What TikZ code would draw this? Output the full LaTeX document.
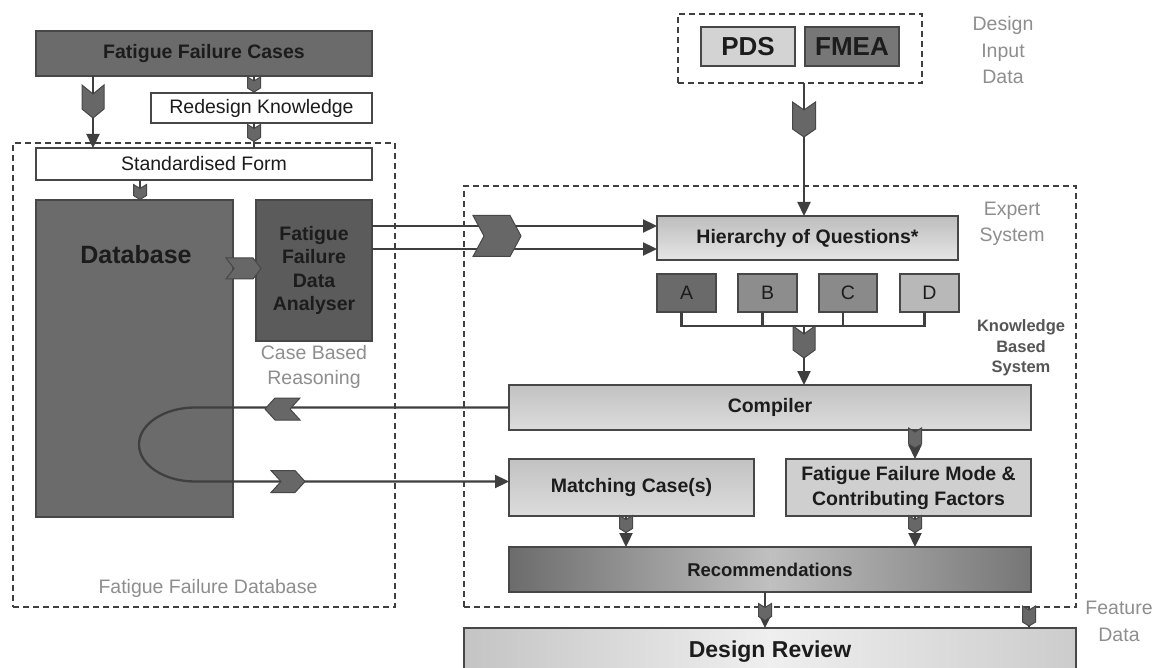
\documentclass[tikz,border=0pt]{standalone}
\usepackage{fontspec}
\setmainfont{Liberation Sans}
\usetikzlibrary{arrows.meta}

\definecolor{ink}{HTML}{1C1C1C}
\definecolor{edge}{HTML}{474747}
\definecolor{wire}{HTML}{3F3F3F}
\definecolor{darkfill}{HTML}{6B6B6B}
\definecolor{anfill}{HTML}{5B5B5B}
\definecolor{chevfill}{HTML}{676767}
\definecolor{softlabel}{HTML}{8E8E8E}
\definecolor{kbslabel}{HTML}{555555}
\definecolor{pdsfill}{HTML}{D3D3D3}
\definecolor{fmeafill}{HTML}{777777}
\definecolor{afill}{HTML}{6A6A6A}
\definecolor{bfill}{HTML}{8D8D8D}
\definecolor{cfill}{HTML}{8A8A8A}
\definecolor{dfill}{HTML}{B8B8B8}
\definecolor{gtop}{HTML}{BDBDBD}
\definecolor{gbot}{HTML}{E6E6E6}
\definecolor{ctop}{HTML}{C2C2C2}
\definecolor{cbot}{HTML}{DCDCDC}
\definecolor{ffmfill}{HTML}{CFCFCF}
\definecolor{recedge}{HTML}{6C6C6C}
\definecolor{recmid}{HTML}{C0C0C0}
\definecolor{recright}{HTML}{767676}
\definecolor{drleft}{HTML}{C4C4C4}
\definecolor{drmid}{HTML}{EFEFEF}
\definecolor{drright}{HTML}{CCCCCC}

\tikzset{
  % block arrow marker drawn pointing along +x
  pics/chev/.style n args={3}{code={
    \filldraw[chevstyle] (-#1/2,-#2/2) -- (#1/2-#3,-#2/2) -- (#1/2,0)
      -- (#1/2-#3,#2/2) -- (-#1/2,#2/2) -- (-#1/2+#3,0) -- cycle;
  }},
  chevstyle/.style={fill=chevfill, draw=edge, line width=1pt, line join=miter},
}

\begin{document}
\begin{tikzpicture}[x=1pt,y=-1pt,
  every node/.style={inner sep=0pt, outer sep=0pt},
  box/.style={draw=edge, line width=1.3pt, rectangle, anchor=north west, align=center, text=ink},
  group/.style={draw=wire, line width=1.4pt, dash pattern=on 6pt off 4pt, rectangle, anchor=north west},
  txt/.style={font=\fontsize{19.5}{23.5}\selectfont},
  btxt/.style={font=\bfseries\fontsize{19.5}{23.5}\selectfont},
  note/.style={align=center, text=softlabel, font=\fontsize{19.5}{26.5}\selectfont},
  conn/.style={draw=wire, line width=2.3pt},
  arr/.style={-{Triangle[length=14pt,width=13pt]}},
]
\clip (0,0) rectangle (1156,668);
\fill[white] (0,0) rectangle (1156,668);

% ---------- guide coordinates for vertical and horizontal runs ----------
\coordinate (k93) at (93,0);
\coordinate (k140) at (140,0);
\coordinate (k254) at (254,0);
\coordinate (k195) at (195,0);
\coordinate (k626) at (626,0);
\coordinate (k765) at (765,0);
\coordinate (k804) at (804,0);
\coordinate (k915) at (915,0);
\coordinate (k1029) at (1029,0);
\coordinate (k226) at (0,226);
\coordinate (k249) at (0,249);

% ---------- group frames ----------
\node[group, minimum width=382pt, minimum height=464pt] (dbgroup) at (13,143) {};
\node[group, minimum width=612pt, minimum height=421pt] (expert) at (464,186) {};
\node[group, minimum width=244pt, minimum height=69pt] (dinput) at (678,14) {};

% ---------- fatigue failure database side ----------
\node[box, btxt, fill=darkfill, minimum width=336pt, minimum height=45pt] (ffc) at (36,31) {Fatigue Failure Cases};
\node[box, txt, fill=white, minimum width=221pt, minimum height=30pt] (redesign) at (151,93) {Redesign Knowledge};
\node[box, txt, fill=white, minimum width=336pt, minimum height=32pt] (sform) at (36,148) {Standardised Form};
\node[box, fill=darkfill, minimum width=197pt, minimum height=317pt] (db) at (36,200) {};
\node[text=ink, font=\bfseries\fontsize{25}{30}\selectfont] (dbtitle) at (136,255) {Database};
\node[box, btxt, fill=anfill, minimum width=116pt, minimum height=141pt] (an) at (256,200) {Fatigue\\Failure\\Data\\Analyser};
\node[note, font=\fontsize{19.5}{24.5}\selectfont] (cbr) at (314,367) {Case Based\\Reasoning};
\node[note] (fdb) at (208,588) {Fatigue Failure Database};

% ---------- design input ----------
\node[box, text=ink, font=\bfseries\fontsize{26}{30}\selectfont, fill=pdsfill, minimum width=94pt, minimum height=39pt] (pds) at (701,27) {PDS};
\node[box, text=ink, font=\bfseries\fontsize{26}{30}\selectfont, fill=fmeafill, minimum width=94pt, minimum height=39pt] (fmea) at (805,27) {FMEA};
\node[note] (dilabel) at (1003,50.5) {Design\\Input\\Data};

% ---------- expert system ----------
\node[note] (eslabel) at (1012,224) {Expert\\System};
\node[box, btxt, top color=gtop, bottom color=gbot, minimum width=301pt, minimum height=44pt] (hier) at (657,216) {Hierarchy of Questions*};
\node[box, txt, fill=afill, minimum width=59pt, minimum height=38pt] (qa) at (657,274) {A};
\node[box, txt, fill=bfill, minimum width=59pt, minimum height=38pt] (qb) at (738,274) {B};
\node[box, txt, fill=cfill, minimum width=58pt, minimum height=38pt] (qc) at (819,274) {C};
\node[box, txt, fill=dfill, minimum width=59pt, minimum height=38pt] (qd) at (900,274) {D};
\node[align=center, text=kbslabel, font=\bfseries\fontsize{16.5}{20.5}\selectfont] (kbs) at (1021,348) {Knowledge\\Based\\System};
\node[box, btxt, top color=ctop, bottom color=cbot, minimum width=522pt, minimum height=45pt] (compiler) at (509,385) {Compiler};
\node[box, btxt, top color=ctop, bottom color=cbot, minimum width=245pt, minimum height=57pt] (match) at (509,459) {Matching Case(s)};
\node[box, btxt, fill=ffmfill, minimum width=245pt, minimum height=57pt, font=\bfseries\fontsize{19.5}{25}\selectfont] (ffm) at (786,459) {Fatigue Failure Mode \&\\Contributing Factors};
\node[box, left color=recedge, right color=recright, middle color=recmid, minimum width=522pt, minimum height=45pt, font=\bfseries\fontsize{18.5}{22}\selectfont] (recs) at (509,547) {Recommendations};
\node[box, left color=drleft, right color=drright, middle color=drmid, minimum width=612pt, minimum height=48pt, font=\bfseries\fontsize{23}{27}\selectfont] (dr) at (464,628) {Design Review};
\node[note] (fdlabel) at (1119,621.5) {Feature\\Data};

% ---------- connectors ----------
\draw[conn, arr] (ffc.south -| k93) -- (sform.north -| k93);
\draw[conn] (ffc.south -| k254) -- (redesign.north -| k254);
\draw[conn] (redesign.south -| k254) -- (sform.north -| k254);
\draw[conn] (sform.south -| k140) -- (db.north -| k140);
\draw[conn, arr] (an.east |- k226) -- (hier.west |- k226);
\draw[conn, arr] (an.east |- k249) -- (hier.west |- k249);
\draw[conn, arr] (dinput.south -| k804) -- (hier.north -| k804);

% A-D bracket gathering into the compiler
\draw[conn, line width=2.2pt] ([xshift=-5pt]qa.south) -- ++(0,14) -| ([xshift=-5pt]qd.south);
\draw[conn, line width=2.2pt] ([xshift=-5pt]qb.south) -- ++(0,14);
\draw[conn, line width=2.2pt] ([xshift=-5pt]qc.south) -- ++(0,14);
\coordinate (gather) at ([yshift=-14pt]qb.south -| k804);
\draw[conn, arr] (gather) -- (compiler.north -| k804);

\draw[conn, arr] (compiler.south -| k915) -- (ffm.north -| k915);
\draw[conn, arr] (match.south -| k626) -- (recs.north -| k626);
\draw[conn, arr] (ffm.south -| k915) -- (recs.north -| k915);
\draw[conn, arr] (recs.south -| k765) -- (dr.north -| k765);
\draw[conn] (expert.south -| k1029) -- (dr.north -| k1029);

% case retrieval loop through the database
\coordinate (bendtop) at (compiler.west -| k195);
\coordinate (bendbot) at ([yshift=6pt]match.west -| k195);
\draw[conn, arr] (compiler.west) -- (bendtop)
  .. controls (164.1,407.5) and (139,424.1) .. (139,444.5)
  .. controls (139,464.9) and (164.1,481.5) .. (bendbot)
  -- ([yshift=6pt]match.west);

% ---------- block arrow markers ----------
\pic[rotate=-90] at (93,101.5) {chev={33}{22}{9}};
\pic[rotate=-90] at (254,84.5) {chev={15}{13}{4}};
\pic[rotate=-90] at (254,133) {chev={17}{13}{4}};
\pic[rotate=-90] at (140,192) {chev={15}{13}{4}};
\pic at (243.5,268.5) {chev={35}{21}{8}};
\pic at (497,236) {chev={48}{41}{11}};
\pic[rotate=-90] at (804,119.5) {chev={35}{23}{8}};
\pic[rotate=-90] at (804,342) {chev={32}{22}{8}};
\pic[rotate=-90] at (915,438) {chev={20}{13}{4}};
\pic[rotate=-90] at (626,524) {chev={17}{13}{4}};
\pic[rotate=-90] at (915,524) {chev={17}{13}{4}};
\pic[rotate=-90] at (765,612) {chev={17}{13}{4}};
\pic[rotate=-90] at (1029,616) {chev={20}{13}{4}};
\pic[rotate=180] at (282.5,409) {chev={35}{22}{10}};
\pic at (288,481.5) {chev={34}{22}{10}};
\end{tikzpicture}
\end{document}
